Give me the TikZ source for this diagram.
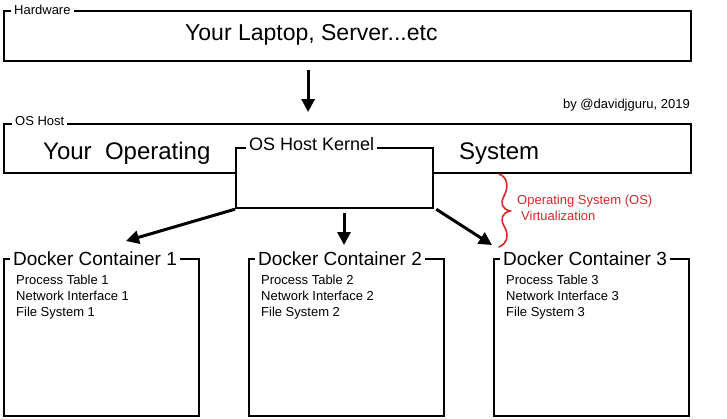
\documentclass[tikz,border=0pt]{standalone}
\usepackage{fontspec}
\setmainfont{Liberation Sans}
\usetikzlibrary{arrows.meta,calc}
\definecolor{virtred}{RGB}{214,40,40}
\tikzset{
  frame/.style={draw=black, line width=2.2pt, fill=white, inner sep=0pt, anchor=north west},
  tag/.style={fill=white, inner xsep=3pt, inner ysep=1pt, anchor=base west},
  txt/.style={inner sep=0pt, anchor=base west},
  arr/.style={line width=3pt, -{Triangle[length=13pt,width=13pt]}},
  small/.style={font=\fontsize{13}{15}\selectfont},
}
\begin{document}
\begin{tikzpicture}[x=1pt,y=-1pt]
\useasboundingbox (0,0) rectangle (727,418);

% Hardware
\node[frame, minimum width=687pt, minimum height=50pt] (hw) at (3,10) {};
\node[tag, small] (hwlab) at (11,14) {Hardware};
\node[txt, font=\fontsize{23}{26}\selectfont] (laptop) at (185,40) {Your Laptop, Server...etc};

% OS Host
\node[frame, minimum width=687pt, minimum height=49pt] (os) at (3,123) {};
\node[tag, small] (oslab) at (12,125) {OS Host};
\node[txt, font=\fontsize{24}{28}\selectfont] (yo) at (43,159) {Your\ \ Operating};
\node[txt, font=\fontsize{24}{28}\selectfont] (sys) at (459,159) {System};
\node[inner sep=0pt, anchor=base east, small] (by) at (690,108) {by @davidjguru, 2019};

% Kernel
\node[frame, minimum width=197pt, minimum height=60pt] (kern) at (235,147) {};
\node[tag, font=\fontsize{18}{20}\selectfont] (kernlab) at (246,150) {OS Host Kernel};

% Containers
\foreach \i/\x in {1/3, 2/248, 3/493}{
  \node[frame, minimum width=195pt, minimum height=157pt] (c\i) at (\x,258) {};
  \node[tag, font=\fontsize{19}{22}\selectfont] (c\i lab) at (\x+7,265) {Docker Container \i};
  \node[txt, small] (c\i a) at (\x+13,284) {Process Table \i};
  \node[txt, small] (c\i b) at (\x+13,300) {Network Interface \i};
  \node[txt, small] (c\i c) at (\x+13,316) {File System \i};
}

% Arrows
\draw[arr, shorten <=8pt, shorten >=11pt] ([xshift=-39.5pt]hw.south) -- ([xshift=-39.5pt]os.north);
\coordinate (t1) at (126,241);
\coordinate (s2) at (344,213);
\coordinate (t2) at (344,245);
\coordinate (t3) at (492,245);
\draw[arr] (kern.south west) -- (t1);
\draw[arr] (s2) -- (t2);
\draw[arr] ([xshift=2pt]kern.south east) -- (t3);

% Brace
\draw[virtred, line width=1.6pt, line cap=round]
  (499,174) .. controls (509,178) and (508,189) .. (504,196)
  .. controls (500,203) and (502,209) .. (510,211)
  .. controls (502,213) and (500,219) .. (504,226)
  .. controls (509,234) and (508,243) .. (499,247);
\node[txt, small, text=virtred] (vt1) at (517,204) {Operating System (OS)};
\node[txt, small, text=virtred] (vt2) at (521,220) {Virtualization};
\end{tikzpicture}
\end{document}
